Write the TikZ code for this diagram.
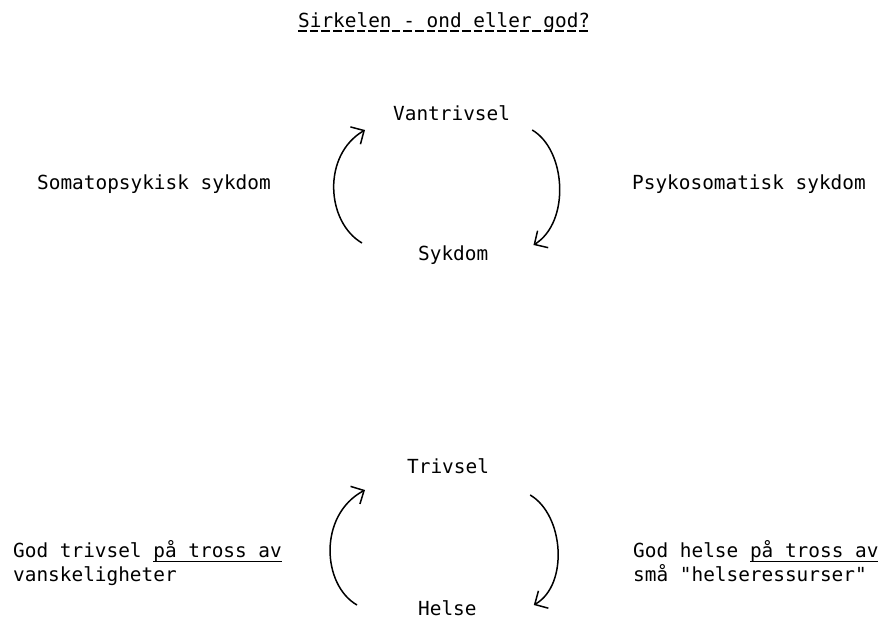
\documentclass[tikz,border=0pt]{standalone}
\usepackage{fontspec}
\newfontfamily\skrift{DejaVu Sans Mono}
\usetikzlibrary{arrows.meta}
% typewriter underline
\newcommand{\typeul}[1]{\setbox0\hbox{#1}\rlap{\rule[-5pt]{\wd0}{1.3pt}}\box0}
\begin{document}
\begin{tikzpicture}[x=1pt, y=-1pt, >={Straight Barb[length=10pt,width=20pt]},
  lbl/.style={anchor=base west, inner sep=0pt, font=\skrift\fontsize{19.4}{24}\selectfont},
  sirkel/.style={->, line width=1.5pt}]
 \useasboundingbox (0,0) rectangle (887,624);
 % Overskrift
 \node[lbl] (tittel) at (298,27) {Sirkelen - ond eller god?};
 \draw[line width=1.3pt, dash pattern=on 8.7pt off 3pt] ([shift={(0,4)}]tittel.base west) -- ([shift={(0,4)}]tittel.base east);
 % Den onde sirkelen
 \node[lbl] (vantrivsel) at (393,120) {Vantrivsel};
 \node[lbl] (sykdom) at (418,260) {Sykdom};
 \node[lbl] (somato) at (37,189) {Somatopsykisk sykdom};
 \node[lbl] (psyko) at (632,189) {Psykosomatisk sykdom};
 \draw[sirkel] ([shift={(-56,-17)}]sykdom.base west) .. controls +(-36,-21) and +(-43,25) .. ([shift={(-28,10)}]vantrivsel.base west);
 \draw[sirkel] ([shift={(22,10)}]vantrivsel.base east) .. controls +(34,20) and +(37,-23) .. ([shift={(45,-15)}]sykdom.base east);
 % Den gode sirkelen
 \node[lbl] (trivsel) at (407,473) {Trivsel};
 \node[lbl] (helse) at (418,615) {Helse};
 \node[lbl] (godtriv) at (13,557) {God trivsel \typeul{på tross av}};
 \node[lbl] (vansk) at (13,581) {vanskeligheter};
 \node[lbl] (godhelse) at (633,557) {God helse \typeul{på tross av}};
 \node[lbl] (smaa) at (633,581) {små "helseressurser"};
 \draw[sirkel] ([shift={(-61,-10)}]helse.base west) .. controls +(-35,-20) and +(-47,25) .. ([shift={(-42,17)}]trivsel.base west);
 \draw[sirkel] ([shift={(41,22)}]trivsel.base east) .. controls +(34,20) and +(35,-20) .. ([shift={(57,-10)}]helse.base east);
\end{tikzpicture}
\end{document}
